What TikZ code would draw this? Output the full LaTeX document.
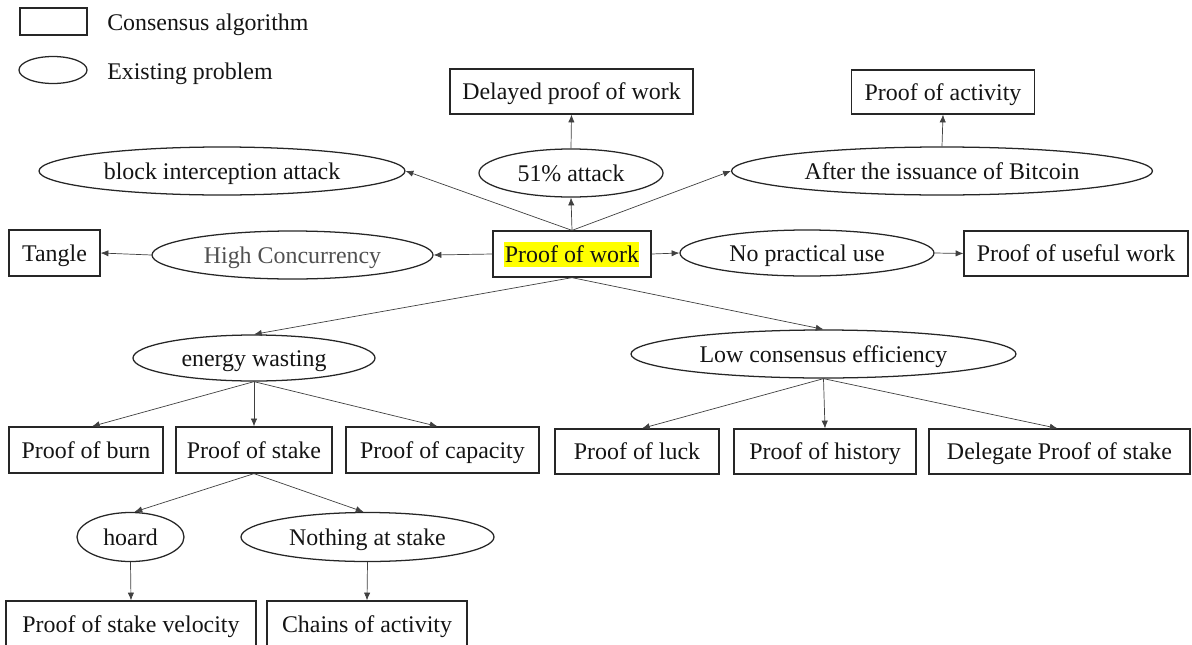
\documentclass[tikz,border=0pt]{standalone}
\usepackage{fontspec}
\setmainfont{Liberation Serif}
\usetikzlibrary{shapes.geometric,arrows.meta}
\definecolor{hl}{HTML}{FFFF00}
\definecolor{linec}{HTML}{404040}
\definecolor{grytxt}{HTML}{505050}
\begin{document}
\begin{tikzpicture}[x=0.025cm,y=-0.025cm,
  every node/.style={font=\fontsize{17}{20}\selectfont, text=black!92, text height=15pt, text depth=3.6pt},
  wd/.style={minimum width=#1*0.025cm},
  ht/.style={minimum height=#1*0.025cm},
  cbox/.style={draw=black!85, line width=0.9pt, rectangle, inner sep=0pt},
  prob/.style={draw=black!85, line width=0.9pt, ellipse, inner sep=0pt},
  conn/.style={draw=linec, line width=0.5pt, -{Latex[length=5.5pt,width=4.5pt]}}
]
\useasboundingbox (0,0) rectangle (1192,645);

% legend
\node[cbox, wd=67, ht=27, text height=0pt, text depth=0pt] (lrect) at (53.5,21.5) {};
\node[prob, wd=68, ht=27, text height=0pt, text depth=0pt] (lell) at (53,70) {};
\node[anchor=west, inner sep=0pt] (ltxt1) at (107,22) {Consensus algorithm};
\node[anchor=west, inner sep=0pt] (ltxt2) at (107,71) {Existing problem};

% highlight behind Proof of work
\fill[hl] (504,242) rectangle (639,267);

% nodes
\node[cbox, wd=158, ht=46] (pow) at (572,254) {Proof of work};
\node[cbox, wd=243, ht=45] (delay) at (571.5,91.5) {Delayed proof of work};
\node[prob, wd=184, ht=48] (a51) at (571,173) {51\% attack};
\node[prob, wd=366, ht=48] (bia) at (222,171) {block interception attack};
\node[prob, wd=421, ht=48] (after) at (942,171) {After the issuance of Bitcoin};
\node[cbox, wd=183, ht=44] (act) at (943,92) {Proof of activity};
\node[prob, wd=281, ht=48, text=grytxt] (hc) at (292.5,255) {High Concurrency};
\node[cbox, wd=91, ht=46] (tangle) at (54.5,253) {Tangle};
\node[prob, wd=254, ht=46] (npu) at (807,253) {No practical use};
\node[cbox, wd=224, ht=45] (puw) at (1076,253.5) {Proof of useful work};

\node[prob, wd=242, ht=46] (energy) at (254,358) {energy wasting};
\node[prob, wd=385, ht=48] (low) at (823.5,354) {Low consensus efficiency};

\node[cbox, wd=154, ht=46] (burn) at (86,450) {Proof of burn};
\node[cbox, wd=156, ht=46] (stake) at (254,450) {Proof of stake};
\node[cbox, wd=193, ht=46] (capac) at (442.5,450) {Proof of capacity};
\node[cbox, wd=164, ht=45] (luck) at (637,451.5) {Proof of luck};
\node[cbox, wd=182, ht=45] (hist) at (825,451.5) {Proof of history};
\node[cbox, wd=261, ht=45] (dpos) at (1059.5,451.5) {Delegate Proof of stake};

\node[prob, wd=107, ht=49] (hoard) at (130.5,537) {hoard};
\node[prob, wd=253, ht=49] (nas) at (367.5,537) {Nothing at stake};

\node[cbox, wd=250, ht=46] (psv) at (131,624) {Proof of stake velocity};
\node[cbox, wd=200, ht=46] (chains) at (367,624) {Chains of activity};

% connectors
\draw[conn] (pow.north) -- (a51.south);
\draw[conn] (a51.north) -- (delay.south);
\draw[conn] (pow.north) -- (bia.east);
\draw[conn] (pow.north) -- (after.west);
\draw[conn] (after.north) -- (act.south);
\draw[conn] (pow.west) -- (hc.east);
\draw[conn] (hc.west) -- (tangle.east);
\draw[conn] (pow.east) -- (npu.west);
\draw[conn] (npu.east) -- (puw.west);
\draw[conn] (pow.south) -- (energy.north);
\draw[conn] (pow.south) -- (low.north);
\draw[conn] (energy.south) -- ([xshift=6*0.025cm]burn.north);
\draw[conn] (energy.south) -- (stake.north);
\draw[conn] (energy.south) -- ([xshift=-5*0.025cm]capac.north);
\draw[conn] (low.south) -- ([xshift=5*0.025cm]luck.north);
\draw[conn] (low.south) -- (hist.north);
\draw[conn] (low.south) -- ([xshift=-2*0.025cm]dpos.north);
\draw[conn] (stake.south) -- ([xshift=4*0.025cm]hoard.north);
\draw[conn] (stake.south) -- ([xshift=-4*0.025cm]nas.north);
\draw[conn] (hoard.south) -- (psv.north);
\draw[conn] (nas.south) -- (chains.north);
\end{tikzpicture}
\end{document}
